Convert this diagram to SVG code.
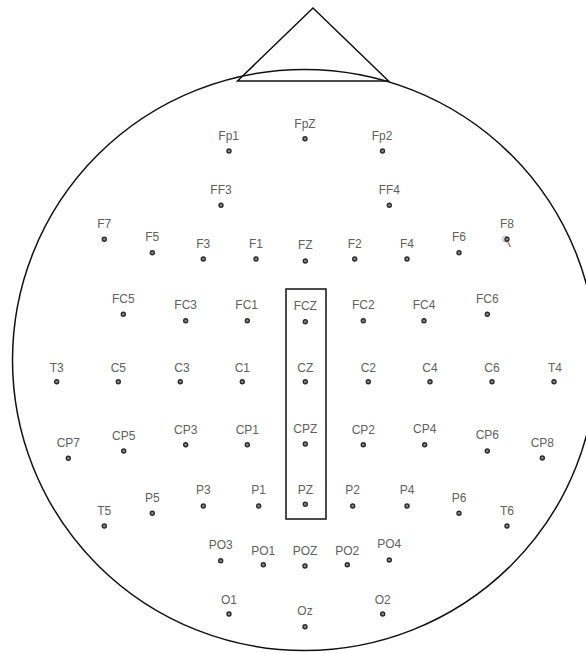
<svg xmlns="http://www.w3.org/2000/svg" width="586" height="653" viewBox="0 0 586 653">
<style>
.lbl{font-family:"Liberation Sans",Arial,sans-serif;font-size:12px;fill:#606060;text-anchor:middle}
.dot{fill:#8a8a8a;stroke:#2a2a2a;stroke-width:1.4}
.line{fill:none;stroke:#111;stroke-width:1.5}
</style>
<rect width="586" height="653" fill="#fff"/>
<g id="head">
<ellipse class="line" cx="304.5" cy="360" rx="292" ry="290.5"/>
<polygon id="nose" class="line" points="313,8 237.5,81 388.5,81"/>
<rect id="midline-box" class="line" x="286" y="289" width="40" height="230"/>
</g>
<g id="connectors"></g>
<g id="Fp1"><text class="lbl" x="228.7" y="140">Fp1</text><circle class="dot" cx="229" cy="151" r="2"/></g>
<g id="FpZ"><text class="lbl" x="305" y="128.3">FpZ</text><circle class="dot" cx="305" cy="138.7" r="2"/></g>
<g id="Fp2"><text class="lbl" x="382" y="140">Fp2</text><circle class="dot" cx="382.5" cy="151" r="2"/></g>
<g id="FF3"><text class="lbl" x="221" y="194.3">FF3</text><circle class="dot" cx="221" cy="205.3" r="2"/></g>
<g id="FF4"><text class="lbl" x="389.3" y="194.3">FF4</text><circle class="dot" cx="389.3" cy="205.3" r="2"/></g>
<g id="F7"><text class="lbl" x="104.3" y="227.6">F7</text><circle class="dot" cx="104.3" cy="239.3" r="2"/></g>
<g id="F5"><text class="lbl" x="152.3" y="241">F5</text><circle class="dot" cx="152.3" cy="252.7" r="2"/></g>
<g id="F3"><text class="lbl" x="203.3" y="247.6">F3</text><circle class="dot" cx="203.3" cy="259" r="2"/></g>
<g id="F1"><text class="lbl" x="256" y="247.6">F1</text><circle class="dot" cx="256" cy="259" r="2"/></g>
<g id="FZ"><text class="lbl" x="305.3" y="249.3">FZ</text><circle class="dot" cx="305.3" cy="261" r="2"/></g>
<g id="F2"><text class="lbl" x="354.7" y="247.6">F2</text><circle class="dot" cx="354.7" cy="259" r="2"/></g>
<g id="F4"><text class="lbl" x="407" y="247.6">F4</text><circle class="dot" cx="407" cy="259" r="2"/></g>
<g id="F6"><text class="lbl" x="459" y="241">F6</text><circle class="dot" cx="459" cy="252.7" r="2"/></g>
<g id="F8"><text class="lbl" x="507" y="227.6">F8</text><circle cx="505.5" cy="239" r="3" fill="none" stroke="#aaa" stroke-width="1"/><circle class="dot" cx="507" cy="239.3" r="2"/><line x1="507.5" y1="241.5" x2="510.5" y2="247" stroke="#c0504d" stroke-width="1.2"/></g>
<g id="FC5"><text class="lbl" x="123.3" y="303.3">FC5</text><circle class="dot" cx="123.3" cy="314.3" r="2"/></g>
<g id="FC3"><text class="lbl" x="185.7" y="309.3">FC3</text><circle class="dot" cx="185.7" cy="320.7" r="2"/></g>
<g id="FC1"><text class="lbl" x="246.7" y="309.3">FC1</text><circle class="dot" cx="247.3" cy="320.7" r="2"/></g>
<g id="FCZ"><text class="lbl" x="305.3" y="310.3">FCZ</text><circle class="dot" cx="305.3" cy="321.7" r="2"/></g>
<g id="FC2"><text class="lbl" x="363.3" y="308.6">FC2</text><circle class="dot" cx="363.3" cy="320.7" r="2"/></g>
<g id="FC4"><text class="lbl" x="424" y="308.6">FC4</text><circle class="dot" cx="424" cy="320.7" r="2"/></g>
<g id="FC6"><text class="lbl" x="487.3" y="303.3">FC6</text><circle class="dot" cx="487.3" cy="314.3" r="2"/></g>
<g id="T3"><text class="lbl" x="56.7" y="372">T3</text><circle class="dot" cx="56.7" cy="381.7" r="2"/></g>
<g id="C5"><text class="lbl" x="118.3" y="372">C5</text><circle class="dot" cx="118.3" cy="381.7" r="2"/></g>
<g id="C3"><text class="lbl" x="182" y="372">C3</text><circle class="dot" cx="180.3" cy="381.7" r="2"/></g>
<g id="C1"><text class="lbl" x="242.3" y="372">C1</text><circle class="dot" cx="242.3" cy="381.7" r="2"/></g>
<g id="CZ"><text class="lbl" x="305.3" y="372">CZ</text><circle class="dot" cx="305.3" cy="381.7" r="2"/></g>
<g id="C2"><text class="lbl" x="368.3" y="372">C2</text><circle class="dot" cx="368.3" cy="381.7" r="2"/></g>
<g id="C4"><text class="lbl" x="430" y="372">C4</text><circle class="dot" cx="430" cy="381.7" r="2"/></g>
<g id="C6"><text class="lbl" x="492" y="372">C6</text><circle class="dot" cx="492" cy="381.7" r="2"/></g>
<g id="T4"><text class="lbl" x="555" y="372">T4</text><circle class="dot" cx="554" cy="381.7" r="2"/></g>
<g id="CP7"><text class="lbl" x="68.3" y="446.6">CP7</text><circle class="dot" cx="68.3" cy="458.3" r="2"/></g>
<g id="CP5"><text class="lbl" x="123.7" y="439.6">CP5</text><circle class="dot" cx="123.7" cy="451" r="2"/></g>
<g id="CP3"><text class="lbl" x="185.7" y="433.6">CP3</text><circle class="dot" cx="185.7" cy="444.7" r="2"/></g>
<g id="CP1"><text class="lbl" x="247.3" y="433.6">CP1</text><circle class="dot" cx="247.3" cy="444.7" r="2"/></g>
<g id="CPZ"><text class="lbl" x="305.3" y="432.6">CPZ</text><circle class="dot" cx="305.3" cy="444" r="2"/></g>
<g id="CP2"><text class="lbl" x="363.3" y="434.3">CP2</text><circle class="dot" cx="363.3" cy="444.7" r="2"/></g>
<g id="CP4"><text class="lbl" x="424.7" y="432.6">CP4</text><circle class="dot" cx="424.7" cy="444.7" r="2"/></g>
<g id="CP6"><text class="lbl" x="487.3" y="439.3">CP6</text><circle class="dot" cx="487.3" cy="451" r="2"/></g>
<g id="CP8"><text class="lbl" x="542.3" y="446.6">CP8</text><circle class="dot" cx="542.3" cy="458" r="2"/></g>
<g id="T5"><text class="lbl" x="104.3" y="515">T5</text><circle class="dot" cx="104.3" cy="526" r="2"/></g>
<g id="P5"><text class="lbl" x="152.3" y="501.6">P5</text><circle class="dot" cx="152.3" cy="513.3" r="2"/></g>
<g id="P3"><text class="lbl" x="203.3" y="494.3">P3</text><circle class="dot" cx="203.3" cy="506" r="2"/></g>
<g id="P1"><text class="lbl" x="258.7" y="494.3">P1</text><circle class="dot" cx="258.7" cy="506" r="2"/></g>
<g id="PZ"><text class="lbl" x="305.3" y="493.6">PZ</text><circle class="dot" cx="305.3" cy="504.3" r="2"/></g>
<g id="P2"><text class="lbl" x="352.7" y="494.3">P2</text><circle class="dot" cx="352.7" cy="506" r="2"/></g>
<g id="P4"><text class="lbl" x="407" y="494.3">P4</text><circle class="dot" cx="407" cy="506" r="2"/></g>
<g id="P6"><text class="lbl" x="459" y="501.6">P6</text><circle class="dot" cx="459" cy="513.3" r="2"/></g>
<g id="T6"><text class="lbl" x="507" y="515">T6</text><circle class="dot" cx="507" cy="526" r="2"/></g>
<g id="PO3"><text class="lbl" x="220.7" y="549.3">PO3</text><circle class="dot" cx="220.7" cy="560.7" r="2"/></g>
<g id="PO1"><text class="lbl" x="263.3" y="555">PO1</text><circle class="dot" cx="263.3" cy="564.7" r="2"/></g>
<g id="POZ"><text class="lbl" x="305" y="555">POZ</text><circle class="dot" cx="305" cy="566" r="2"/></g>
<g id="PO2"><text class="lbl" x="347.3" y="555">PO2</text><circle class="dot" cx="347.3" cy="564.7" r="2"/></g>
<g id="PO4"><text class="lbl" x="389.3" y="548.3">PO4</text><circle class="dot" cx="389.3" cy="560" r="2"/></g>
<g id="O1"><text class="lbl" x="229" y="603.6">O1</text><circle class="dot" cx="229" cy="614" r="2"/></g>
<g id="Oz"><text class="lbl" x="305" y="615.3">Oz</text><circle class="dot" cx="305" cy="626.7" r="2"/></g>
<g id="O2"><text class="lbl" x="382.7" y="603.6">O2</text><circle class="dot" cx="382.7" cy="614" r="2"/></g>
</svg>
